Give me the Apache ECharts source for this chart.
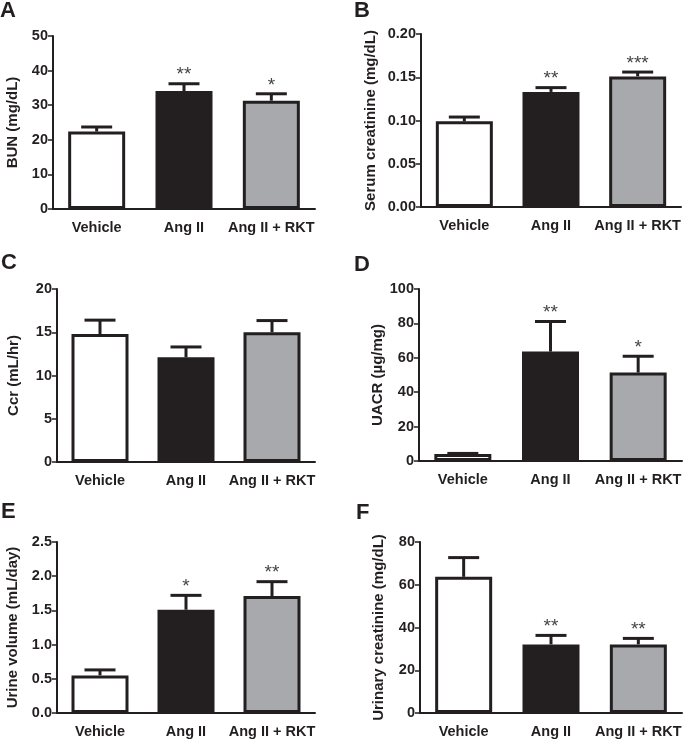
<!DOCTYPE html>
<html>
<head>
<meta charset="utf-8">
<script src="https://cdn.jsdelivr.net/npm/echarts@6/dist/echarts.min.js"></script>
<style>html,body{margin:0;padding:0;background:#fff}#c{width:685px;height:739px}</style>
</head>
<body>
<div id="c"></div>
<script>
var categories = ['Vehicle', 'Ang II', 'Ang II + RKT'];

var bunMean = [22.4, 34.1, 31.3];
var bunSem = [1.3, 2.1, 2.0];
var bunStars = ['', '**', '*'];

var serumCreatMean = [0.099, 0.133, 0.151];
var serumCreatSem = [0.005, 0.005, 0.005];
var serumCreatStars = ['', '**', '***'];

var ccrMean = [14.8, 12.1, 15.0];
var ccrSem = [1.6, 1.2, 1.35];
var ccrStars = ['', '', ''];

var uacrMean = [4.1, 63.6, 51.4];
var uacrSem = [0.3, 17.5, 9.5];
var uacrStars = ['', '**', '*'];

var urineVolMean = [0.55, 1.51, 1.71];
var urineVolSem = [0.08, 0.21, 0.21];
var urineVolStars = ['', '*', '**'];

var urinCreatMean = [63.7, 32.1, 32.1];
var urinCreatSem = [9.0, 4.2, 2.8];
var urinCreatStars = ['', '**', '**'];

var barColors = ['#ffffff', '#231f20', '#a7a9ac'];
var ink = '#231f20';
var FF = '"Liberation Sans", Arial, sans-serif';

var panels = [
  {letter: 'A', name: 'BUN (mg/dL)', mean: bunMean, sem: bunSem, stars: bunStars, max: 50, interval: 10, dec: 0,
   grid: {left: 53, top: 36, width: 262, height: 173}, lx: 0, ly: 3, gap: 33},
  {letter: 'B', name: 'Serum creatinine (mg/dL)', mean: serumCreatMean, sem: serumCreatSem, stars: serumCreatStars, max: 0.2, interval: 0.05, dec: 2,
   grid: {left: 421, top: 34, width: 260, height: 173}, lx: 354, ly: 3, gap: 43},
  {letter: 'C', name: 'Ccr (mL/hr)', mean: ccrMean, sem: ccrSem, stars: ccrStars, max: 20, interval: 5, dec: 0,
   grid: {left: 57, top: 289, width: 258, height: 173}, lx: 1, ly: 255, gap: 36},
  {letter: 'D', name: 'UACR (µg/mg)', mean: uacrMean, sem: uacrSem, stars: uacrStars, max: 100, interval: 20, dec: 0,
   grid: {left: 419, top: 289, width: 263, height: 172}, lx: 354, ly: 257, gap: 34},
  {letter: 'E', name: 'Urine volume (mL/day)', mean: urineVolMean, sem: urineVolSem, stars: urineVolStars, max: 2.5, interval: 0.5, dec: 1,
   grid: {left: 57, top: 542, width: 258, height: 174}, lx: 1, ly: 504, gap: 37},
  {letter: 'F', name: 'Urinary creatinine (mg/dL)', mean: urinCreatMean, sem: urinCreatSem, stars: urinCreatStars, max: 80, interval: 20, dec: 0,
   grid: {left: 420, top: 542, width: 262, height: 172}, lx: 356, ly: 505, gap: 34}
];

var option = {
  animation: false,
  backgroundColor: '#ffffff',
  title: [], grid: [], xAxis: [], yAxis: [], series: []
};

panels.forEach(function (p, i) {
  option.title.push({
    text: p.letter, left: p.lx, top: p.ly - 3,
    textStyle: {fontFamily: FF, fontWeight: 'bold', fontSize: 22, color: ink}, padding: 0
  });
  option.grid.push({left: p.grid.left, top: p.grid.top, width: p.grid.width, height: p.grid.height, containLabel: false});
  option.xAxis.push({
    type: 'category', gridIndex: i, data: categories,
    axisLine: {lineStyle: {color: ink, width: 2}},
    axisTick: {alignWithLabel: true, length: 5, lineStyle: {color: ink, width: 1.5}},
    axisLabel: {fontFamily: FF, fontWeight: 'bold', fontSize: 14.5, color: ink, margin: 11, interval: 0}
  });
  option.yAxis.push({
    type: 'value', gridIndex: i, min: 0, max: p.max, interval: p.interval,
    name: p.name, nameLocation: 'middle', nameRotate: 90, nameGap: p.gap,
    nameTextStyle: {fontFamily: FF, fontWeight: 'bold', fontSize: 15, color: ink},
    axisLine: {show: true, lineStyle: {color: ink, width: 2}},
    axisTick: {show: true, length: 5, lineStyle: {color: ink, width: 1.5}},
    splitLine: {show: false},
    axisLabel: {fontFamily: FF, fontWeight: 'bold', fontSize: 14.5, color: ink, margin: 5,
      formatter: (function (d) { return function (v) { return v.toFixed(d); }; })(p.dec)}
  });
  option.series.push({
    type: 'bar', xAxisIndex: i, yAxisIndex: i, barWidth: 57,
    data: p.mean.map(function (v, k) {
      return {value: v, itemStyle: {color: barColors[k], borderColor: ink, borderWidth: 3}};
    })
  });
  option.series.push({
    type: 'custom', xAxisIndex: i, yAxisIndex: i, z: 5,
    data: p.mean.map(function (v, k) { return [k, v, v + p.sem[k]]; }),
    renderItem: (function (pp) {
      return function (params, api) {
        var base = api.coord([api.value(0), api.value(1)]);
        var top = api.coord([api.value(0), api.value(2)]);
        var hw = 15.5;
        var children = [
          {type: 'line', shape: {x1: top[0], y1: base[1], x2: top[0], y2: top[1]}, style: {stroke: ink, lineWidth: 3}},
          {type: 'line', shape: {x1: top[0] - hw, y1: top[1], x2: top[0] + hw, y2: top[1]}, style: {stroke: ink, lineWidth: 3}}
        ];
        var s = pp.stars[params.dataIndex];
        if (s) {
          children.push({type: 'text', style: {text: s, x: top[0], y: top[1] + 1, align: 'center', verticalAlign: 'bottom',
            fill: '#444444', fontSize: 19, fontFamily: FF}});
        }
        return {type: 'group', children: children};
      };
    })(p)
  });
});

var chart = echarts.init(document.getElementById('c'), null, {renderer: 'canvas'});
chart.setOption(option);
</script>
</body>
</html>
